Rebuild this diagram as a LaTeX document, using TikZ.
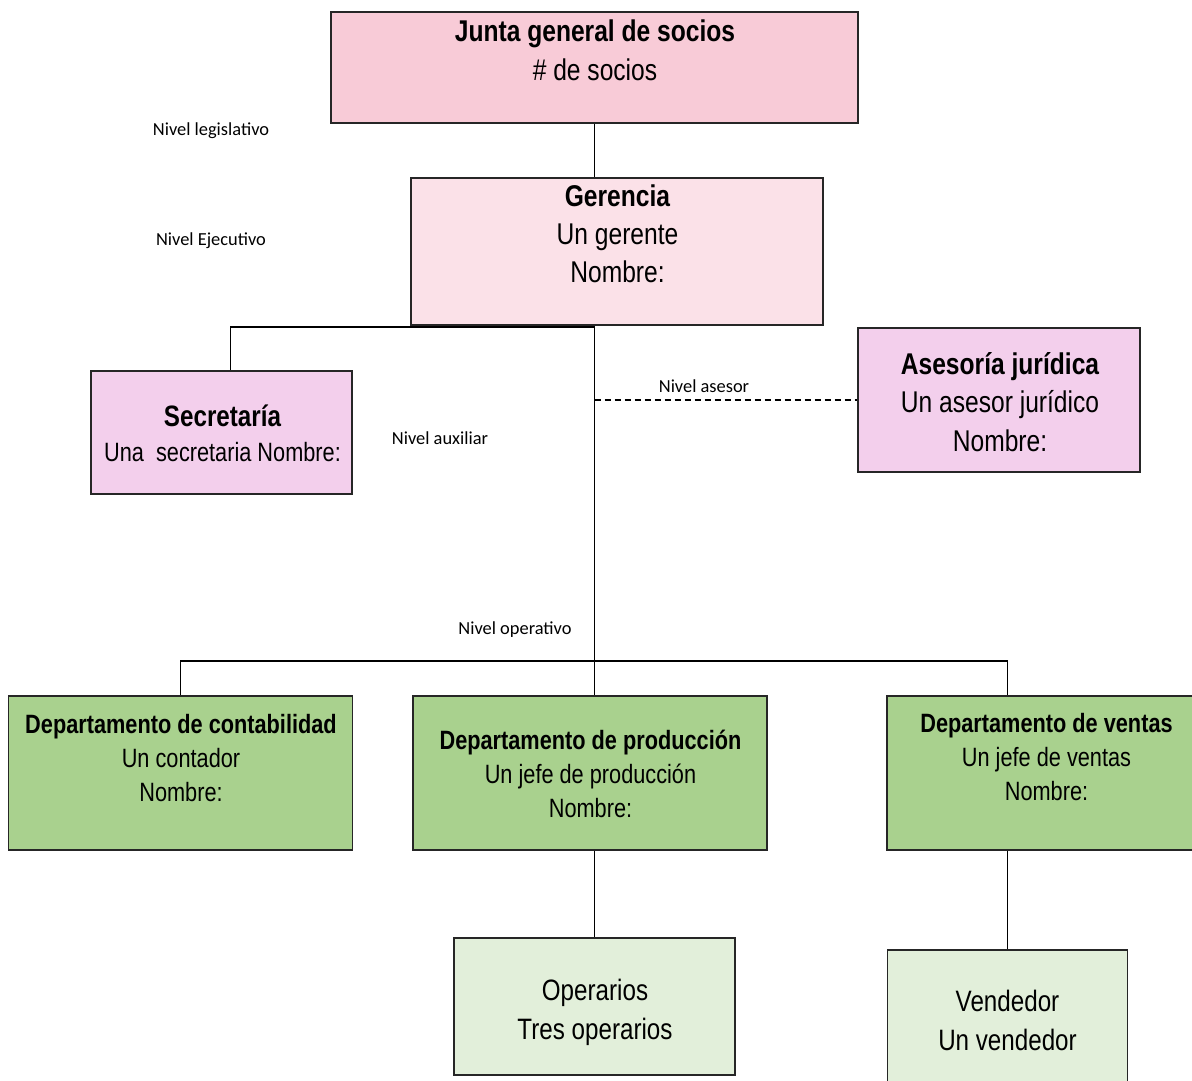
\documentclass[tikz,border=0pt]{standalone}
\usepackage{fontspec}
\setmainfont[FakeStretch=0.82]{Liberation Sans}
\newfontfamily\levelfont{Carlito}
\definecolor{juntafill}{HTML}{F8CBD7}
\definecolor{gerfill}{HTML}{FBE1E8}
\definecolor{lilac}{HTML}{F3CFEC}
\definecolor{deptgreen}{HTML}{A9D18E}
\definecolor{palegreen}{HTML}{E2EFDA}
\definecolor{edge}{HTML}{262626}
\begin{document}
\begin{tikzpicture}[x=1pt,y=-1pt,
  box/.style={draw=edge, line width=1.8pt, inner sep=0pt},
  txt/.style={align=center, inner sep=0pt, anchor=north, text=black},
  big/.style={font=\fontsize{30}{38.5}\selectfont},
  ger/.style={font=\fontsize{30}{38}\selectfont},
  mid/.style={font=\fontsize{26.5}{34}\selectfont},
  low/.style={font=\fontsize{29.5}{38.5}\selectfont},
  level/.style={font=\levelfont\fontsize{18.4}{22}\selectfont, inner sep=0pt},
  conn/.style={draw=black, line width=1.1pt},
  dashconn/.style={conn, dash pattern=on 6pt off 4pt}]
\useasboundingbox[fill=white] (0,0) rectangle (1192,1081);

% boxes
\node[box, fill=juntafill, minimum width=527pt, minimum height=111pt] (junta) at (594.5,67.5) {};
\node[box, fill=gerfill, minimum width=412pt, minimum height=147pt] (ger) at (617,251.5) {};
\node[box, fill=lilac, minimum width=261pt, minimum height=123pt] (sec) at (221.5,432.5) {};
\node[box, fill=lilac, minimum width=282pt, minimum height=144pt] (ases) at (999,400) {};
\node[box, fill=deptgreen, minimum width=344pt, minimum height=154pt] (cont) at (180.5,773) {};
\node[box, fill=deptgreen, minimum width=354pt, minimum height=154pt] (prod) at (590,773) {};
\node[box, fill=deptgreen, minimum width=319pt, minimum height=154pt] (vent) at (1046.5,773) {};
\node[box, fill=palegreen, minimum width=281pt, minimum height=137pt] (oper) at (594.5,1006.5) {};
\node[box, fill=palegreen, minimum width=240pt, minimum height=136pt] (vend) at (1007.5,1018) {};

% box texts
\node[txt, big] (tjunta) at (595,20) {\bfseries Junta general de socios\\\# de socios};
\node[txt, ger] (tger) at (617.5,185) {\bfseries Gerencia\\Un gerente\\Nombre:};
\node[txt, font=\fontsize{26.5}{35}\selectfont] (tsec) at (222.5,405)
  {{\fontsize{29.5}{35}\selectfont\bfseries Secretaría}\\Una\ \ secretaria Nombre:};
\node[txt, big] (tases) at (1000,352) {\bfseries Asesoría jurídica\\Un asesor jurídico\\Nombre:};
\node[txt, mid] (tcont) at (181,714) {\bfseries Departamento de contabilidad\\Un contador\\Nombre:};
\node[txt, mid] (tprod) at (590.5,730) {\bfseries Departamento de producción\\Un jefe de producción\\Nombre:};
\node[txt, mid] (tvent) at (1046.5,713) {\bfseries Departamento de ventas\\Un jefe de ventas\\Nombre:};
\node[txt, low] (toper) at (595,979) {Operarios\\Tres operarios};
\node[txt, low] (tvend) at (1007.5,990) {Vendedor\\Un vendedor};

% level labels
\node[level] (lleg) at (211,131) {Nivel legislativo};
\node[level] (lejec) at (211,241) {Nivel Ejecutivo};
\node[level] (laux) at (440,438) {Nivel auxiliar};
\node[level] (lases) at (704,386) {Nivel asesor};
\node[level] (loper) at (515,630) {Nivel operativo};

% connectors
\coordinate (secjoin) at (230.5,327);
\coordinate (opbar) at (595,661);
\draw[conn] (junta.south) -- (junta.south |- ger.north);
\draw[conn] (junta.south |- ger.south) -- (junta.south |- prod.north);
\draw[conn] (secjoin -| junta.south) -- (secjoin) -- (secjoin |- sec.north);
\draw[dashconn] (junta.south |- ases.west) -- (ases.west);
\draw[conn] (cont.north) |- (opbar -| vend.north) -- (vend.north |- vent.north);
\draw[conn] (junta.south |- prod.south) -- (junta.south |- oper.north);
\draw[conn] (vend.north |- vent.south) -- (vend.north);
\end{tikzpicture}
\end{document}
